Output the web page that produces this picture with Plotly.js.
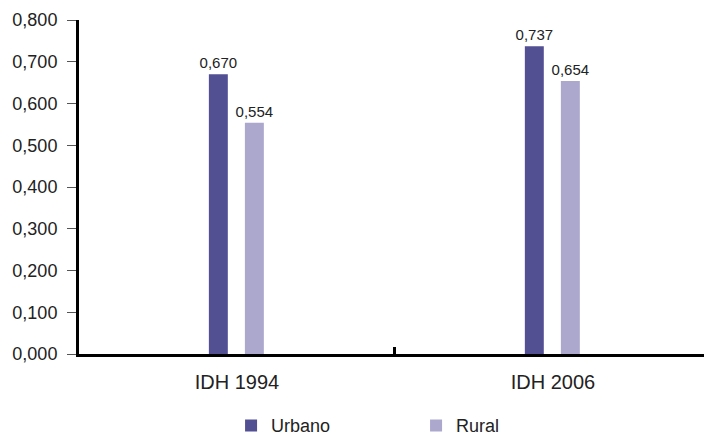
<!DOCTYPE html>
<html><head><meta charset="utf-8">
<script src="https://cdn.plot.ly/plotly-3.0.1.min.js"></script>
<style>html,body{margin:0;padding:0;background:#fff;overflow:hidden}</style>
</head><body>
<div id="chart" style="width:704px;height:438px"></div>
<script>
var categories = ["IDH 1994", "IDH 2006"];
var urbano = [0.670, 0.737];
var rural = [0.554, 0.654];
var seriesNames = ["Urbano", "Rural"];
var yTicks = [0, 0.1, 0.2, 0.3, 0.4, 0.5, 0.6, 0.7, 0.8];

var pos = categories.map(function(c, i){ return i; });
var font = "Liberation Sans, Arial, Helvetica, sans-serif";

var traces = [
  {type:"bar", name:seriesNames[0], x:pos, y:urbano, width:0.06, offset:-0.089,
   marker:{color:"#524f93"}, text:urbano, texttemplate:"%{y:.3f}", textposition:"outside",
   constraintext:"none", textfont:{family:font, size:15, color:"#222"}, cliponaxis:false},
  {type:"bar", name:seriesNames[1], x:pos, y:rural, width:0.06, offset:0.025,
   marker:{color:"#aba7cd"}, text:rural, texttemplate:"%{y:.3f}", textposition:"outside",
   constraintext:"none", textfont:{family:font, size:15, color:"#222"}, cliponaxis:false}
];

var layout = {
  width:704, height:438,
  margin:{l:79, r:0, t:20, b:84, autoexpand:false},
  paper_bgcolor:"#fff", plot_bgcolor:"#fff",
  separators:",.",
  font:{family:font, color:"#222"},
  showlegend:true,
  legend:{orientation:"h", x:0.591, xref:"container", xanchor:"center", y:0.028, yref:"container", yanchor:"middle",
    font:{family:font, size:18, color:"#222"}, entrywidth:140, traceorder:"normal"},
  xaxis:{range:[-0.5, 1.478], tickvals:pos, ticktext:categories, showgrid:false, zeroline:false,
    showline:true, linecolor:"#000", linewidth:3, ticks:"", ticklabelstandoff:8, automargin:false,
    tickfont:{family:font, size:20, color:"#222"},
    minor:{tickvals:[0.5], ticks:"inside", ticklen:7, tickwidth:3, tickcolor:"#000", showgrid:false}},
  yaxis:{range:[0, 0.8], tickvals:yTicks, tickformat:".3f", showgrid:false, zeroline:false, automargin:false,
    showline:true, linecolor:"#000", linewidth:3, ticks:"outside", ticklen:9, tickwidth:1,
    tickcolor:"#555", ticklabelstandoff:6, tickfont:{family:font, size:18, color:"#222"}}
};

Plotly.newPlot("chart", traces, layout, {displayModeBar:false, responsive:false});
</script>
</body></html>
